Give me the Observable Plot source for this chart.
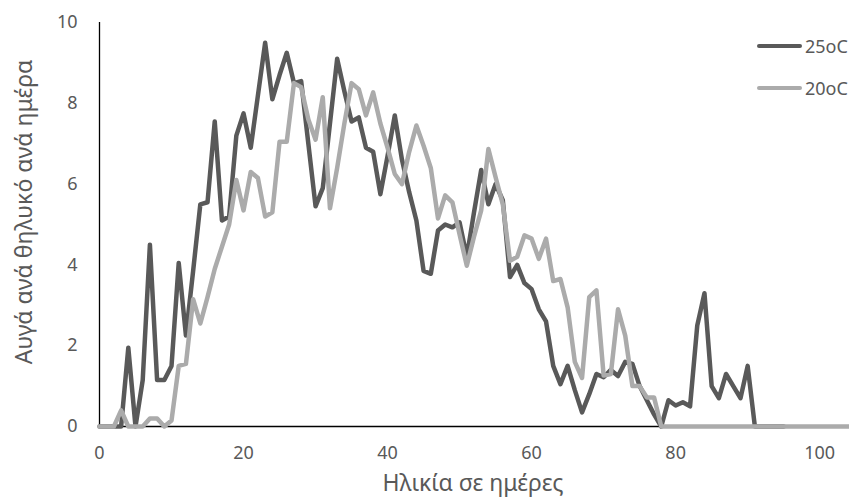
<!DOCTYPE html>
<html>
<head>
<meta charset="utf-8">
<script src="https://cdn.jsdelivr.net/npm/d3@7"></script>
<script src="https://cdn.jsdelivr.net/npm/@observablehq/plot@0.6"></script>
<style>
  html, body { margin: 0; padding: 0; background: #fff; }
  #wrap { position: relative; width: 849px; height: 498px; font-family: "Noto Sans", sans-serif; color: #595959; overflow: hidden; }
  #wrap svg { position: absolute; left: 0; top: 0; }
  .title { position: absolute; white-space: nowrap; font-size: 23px; line-height: 1.2; }
  .legend-item { position: absolute; display: flex; align-items: center; font-size: 18px; line-height: 1; }
  .swatch { width: 45px; height: 4.5px; border-radius: 2.25px; margin-right: 3px; }
</style>
</head>
<body>
<div id="wrap"></div>
<script>
// Eggs per female per day, one value per day of age starting at day 0
const eggs25 = [
  0, 0, 0, 0, 1.95, 0, 1.15, 4.5, 1.15, 1.15,
  1.5, 4.05, 2.25, 3.85, 5.5, 5.55, 7.55, 5.1, 5.2, 7.2,
  7.75, 6.9, 8.2, 9.5, 8.1, 8.7, 9.25, 8.5, 8.55, 7.0,
  5.45, 5.9, 7.5, 9.1, 8.3, 7.55, 7.65, 6.9, 6.8, 5.75,
  6.7, 7.7, 6.6, 5.8, 5.1, 3.85, 3.78, 4.85, 5.0, 4.93,
  5.05, 4.2, 5.3, 6.35, 5.5, 6.0, 5.6, 3.7, 4.0, 3.55,
  3.4, 2.9, 2.6, 1.5, 1.05, 1.5, 0.9, 0.35, 0.8, 1.3,
  1.22, 1.4, 1.25, 1.6, 1.55, 1.0, 0.65, 0.3, 0, 0.65,
  0.52, 0.6, 0.5, 2.5, 3.3, 1.0, 0.7, 1.3, 1.0, 0.7,
  1.5, 0, 0, 0, 0, 0
];
const eggs20 = [
  0, 0, 0, 0.4, 0, 0, 0, 0.2, 0.2, 0,
  0.15, 1.5, 1.55, 3.15, 2.55, 3.2, 3.9, 4.45, 5.0, 6.1,
  5.35, 6.3, 6.15, 5.2, 5.3, 7.05, 7.05, 8.5, 8.4, 7.6,
  7.1, 8.15, 5.4, 6.4, 7.5, 8.5, 8.35, 7.7, 8.27, 7.5,
  6.9, 6.25, 6.0, 6.8, 7.45, 6.95, 6.4, 5.15, 5.72, 5.55,
  4.75, 3.98, 4.7, 5.35, 6.87, 6.17, 5.5, 4.1, 4.2, 4.73,
  4.65, 4.15, 4.65, 3.6, 3.65, 2.95, 1.6, 1.2, 3.2, 3.37,
  1.26, 1.3, 2.9, 2.25, 1.0, 1.0, 0.72, 0.72, 0, 0,
  0, 0, 0, 0, 0, 0, 0, 0, 0, 0,
  0, 0, 0, 0, 0, 0, 0, 0, 0, 0,
  0, 0, 0, 0, 0
];
const seriesNames = ["25oC", "20oC"];
const seriesColors = ["#595959", "#ababab"];
const xTicks = [0, 20, 40, 60, 80, 100];
const yTicks = [0, 2, 4, 6, 8, 10];
const xTitle = "Ηλικία σε ημέρες";
const yTitle = "Αυγά ανά θηλυκό ανά ημέρα";

const rows25 = eggs25.map((v, day) => ({day, eggs: v}));
const rows20 = eggs20.map((v, day) => ({day, eggs: v}));

const chart = Plot.plot({
  width: 849,
  height: 498,
  marginLeft: 99,
  marginRight: 1,
  marginTop: 22,
  marginBottom: 72,
  style: {fontFamily: "'Noto Sans', sans-serif", color: "#595959", background: "transparent"},
  x: {domain: [0, 104]},
  y: {domain: [0, 10]},
  marks: [
    Plot.axisX(xTicks, {tickSize: 0, tickPadding: 20, fontSize: 18, label: null}),
    Plot.axisY(yTicks, {tickSize: 0, tickPadding: 22, fontSize: 18, label: null}),
    Plot.ruleX([0], {y1: 0, y2: 10, stroke: "#000", strokeWidth: 1.3}),
    Plot.ruleY([0], {stroke: "#000", strokeWidth: 1.3}),
    Plot.lineY(rows25, {x: "day", y: "eggs", stroke: seriesColors[0], strokeWidth: 4.5, strokeLinejoin: "round", strokeLinecap: "round"}),
    Plot.lineY(rows20, {x: "day", y: "eggs", stroke: seriesColors[1], strokeWidth: 4.5, strokeLinejoin: "round", strokeLinecap: "round"})
  ]
});

const wrap = document.getElementById("wrap");
wrap.appendChild(chart);

// Axis titles
const xt = document.createElement("div");
xt.className = "title";
xt.textContent = xTitle;
xt.style.left = "473px";
xt.style.top = "483px";
xt.style.transform = "translate(-50%, -50%)";
wrap.appendChild(xt);

const yt = document.createElement("div");
yt.className = "title";
yt.textContent = yTitle;
yt.style.left = "24px";
yt.style.top = "212px";
yt.style.transform = "translate(-50%, -50%) rotate(-90deg)";
wrap.appendChild(yt);

// Legend in the upper right of the plotting area
seriesNames.forEach((name, i) => {
  const item = document.createElement("div");
  item.className = "legend-item";
  item.style.left = "757px";
  item.style.top = (i === 0 ? 46 : 88) + "px";
  item.style.transform = "translateY(-50%)";
  const sw = document.createElement("div");
  sw.className = "swatch";
  sw.style.background = seriesColors[i];
  const label = document.createElement("span");
  label.textContent = name;
  item.appendChild(sw);
  item.appendChild(label);
  wrap.appendChild(item);
});
</script>
</body>
</html>
